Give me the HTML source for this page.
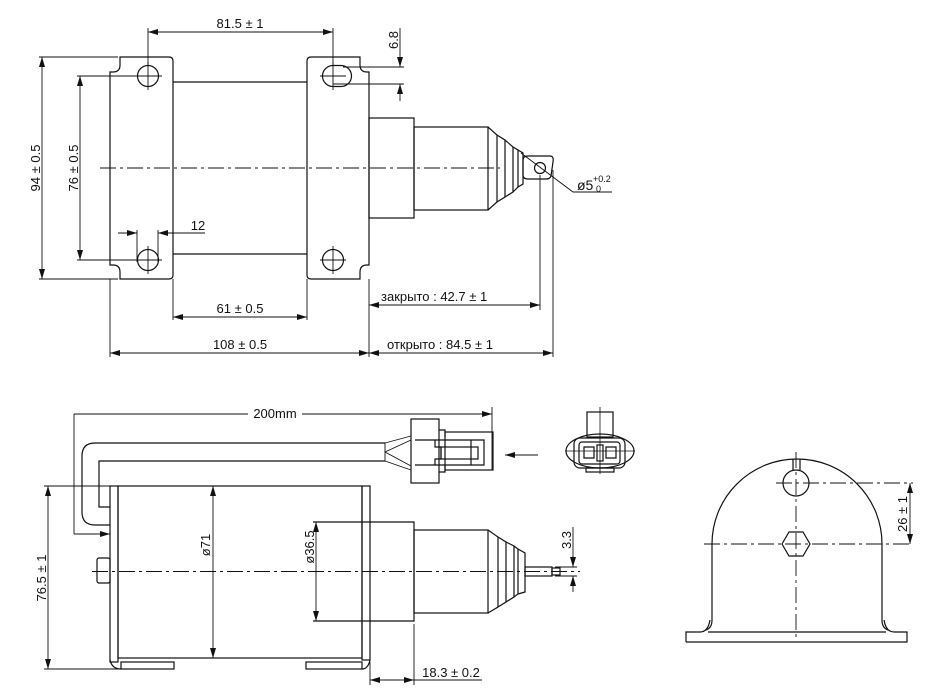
<!DOCTYPE html>
<html><head><meta charset="utf-8"><style>
html,body{margin:0;padding:0;background:#fff;}
svg{display:block;}
text{font-family:"Liberation Sans Narrow","Liberation Sans",sans-serif;fill:#111;}
</style></head><body>
<svg width="935" height="697" viewBox="0 0 935 697" xmlns="http://www.w3.org/2000/svg">
<defs>
<marker id="a" viewBox="0 0 10 6" refX="10" refY="3" markerWidth="10" markerHeight="6" orient="auto-start-reverse" markerUnits="userSpaceOnUse"><path d="M0,0 L10,3 L0,6z" fill="#111"/></marker>
</defs>
<g fill="none" stroke="#111" stroke-width="1.2">
<!-- ===== TOP VIEW ===== -->
<!-- left flange -->
<path d="M120,57 H169 Q173,57 173,61 V275 Q173,279 169,279 H120 V272 Q120,265 113,265 H110 V72 H113 Q120,72 120,65 Z"/>
<!-- right flange -->
<path d="M311,57 H360 V65 Q360,72 367,72 H369 V265 H367 Q360,265 360,272 V279 H311 Q307,279 307,275 V61 Q307,57 311,57 Z"/>
<line x1="173" y1="82" x2="307" y2="82"/><line x1="173" y1="254" x2="307" y2="254"/>
<!-- holes -->
<circle cx="148" cy="76" r="10.5"/><circle cx="148" cy="260" r="10.5"/>
<path d="M333,65.5 H341 A10.5,10.5 0 0 1 341,86.5 H333 A10.5,10.5 0 0 1 333,65.5 Z"/>
<circle cx="333" cy="260" r="10.5"/>
<g stroke-width="0.9">
<line x1="148" y1="62" x2="148" y2="90"/><line x1="134" y1="76" x2="162" y2="76"/>
<line x1="148" y1="246" x2="148" y2="274"/><line x1="134" y1="260" x2="162" y2="260"/>
<line x1="333" y1="62" x2="333" y2="90"/><line x1="320" y1="76" x2="346" y2="76"/>
<line x1="333" y1="246" x2="333" y2="274"/><line x1="320" y1="260" x2="346" y2="260"/>
</g>
<!-- collar & cylinder -->
<rect x="369" y="118" width="45" height="100"/>
<rect x="414" y="127" width="74" height="83"/>
<path d="M488,127 L497,135 V202 L488,210"/>
<path d="M497,135 L505,140 V197 L497,202"/>
<path d="M505,140 L513,147 V192 L505,197"/>
<path d="M513,147 L518,150 V187 L513,192"/>
<path d="M518,150 L523,153 V184 L518,187"/>
<path d="M523,160 Q523,156 528,156 H550 Q554,156 553,162 L551,176 Q550,179 546,179 H528 Q523,179 523,175 Z"/>
<circle cx="540" cy="168" r="5.5"/>
<!-- centerline -->
<line x1="100" y1="168" x2="500" y2="168" stroke-width="0.9" stroke-dasharray="16 4 3 4"/>
<!-- dims top -->
<g stroke-width="0.9">
<line x1="39" y1="57" x2="118" y2="57"/><line x1="39" y1="279" x2="118" y2="279"/>
<line x1="42" y1="57" x2="42" y2="279" marker-start="url(#a)" marker-end="url(#a)"/>
<line x1="77" y1="76" x2="138" y2="76"/><line x1="77" y1="260" x2="138" y2="260"/>
<line x1="80" y1="76" x2="80" y2="260" marker-start="url(#a)" marker-end="url(#a)"/>
<line x1="148" y1="28" x2="148" y2="66"/><line x1="333" y1="28" x2="333" y2="66"/>
<line x1="148" y1="32" x2="333" y2="32" marker-start="url(#a)" marker-end="url(#a)"/>
<line x1="343" y1="67" x2="404" y2="67"/><line x1="333" y1="84" x2="404" y2="84"/>
<line x1="400" y1="28" x2="400" y2="67" marker-end="url(#a)"/>
<line x1="400" y1="101" x2="400" y2="84" marker-end="url(#a)"/>
<line x1="137" y1="230" x2="137" y2="262"/><line x1="158" y1="230" x2="158" y2="262"/>
<line x1="118" y1="233" x2="137" y2="233" marker-end="url(#a)"/>
<line x1="205" y1="233" x2="158" y2="233" marker-end="url(#a)"/>
<line x1="110" y1="279" x2="110" y2="357"/><line x1="173" y1="279" x2="173" y2="320"/>
<line x1="307" y1="279" x2="307" y2="320"/><line x1="369" y1="279" x2="369" y2="357"/>
<line x1="173" y1="317" x2="307" y2="317" marker-start="url(#a)" marker-end="url(#a)"/>
<line x1="110" y1="353" x2="369" y2="353" marker-start="url(#a)" marker-end="url(#a)"/>
<line x1="540" y1="175" x2="540" y2="310"/><line x1="553" y1="170" x2="553" y2="357"/>
<line x1="369" y1="305" x2="540" y2="305" marker-start="url(#a)" marker-end="url(#a)"/>
<line x1="369" y1="353" x2="553" y2="353" marker-start="url(#a)" marker-end="url(#a)"/>
<polyline points="521,153 573,192 612,192"/>
</g>
<!-- ===== SIDE VIEW ===== -->
<!-- cable -->
<path d="M385,443 H95 Q82,443 82,456 V512 Q82,525 95,525 H110"/>
<path d="M385,461 H99 V507 H110"/>
<path d="M385,443 V461" stroke-width="0.9"/>
<path d="M385,443 L411,436 M385,452 L411,440 M385,452 L411,466 M385,461 L411,470" stroke-width="0.9"/>
<!-- connector side -->
<rect x="411" y="419" width="28" height="64"/>
<path d="M439,430 H445 V437 M439,472 H445 V465"/>
<rect x="445" y="432" width="48" height="38"/>
<path d="M415,440 H435 V447 H441 V459 H435 V465 H415 M435,440 H484 V465 H435"/>
<rect x="441" y="447" width="37" height="12"/>
<line x1="471" y1="440" x2="471" y2="465"/>
<!-- arrow -->
<line x1="538" y1="455" x2="505" y2="455" stroke-width="0.9" marker-end="url(#a)"/>
<!-- connector front -->
<rect x="587" y="412" width="26" height="25"/>
<ellipse cx="600" cy="451" rx="34" ry="17"/>
<rect x="574" y="438" width="51" height="30" rx="6"/>
<rect x="579" y="442" width="41" height="22" rx="3"/>
<path d="M584,447 H594 V458 H584 Z M606,447 H616 V458 H606 Z"/>
<rect x="597" y="445" width="6" height="16"/>
<rect x="586" y="468" width="28" height="4"/>
<g stroke-width="0.8"><line x1="600" y1="407" x2="600" y2="474"/><line x1="565" y1="451" x2="635" y2="451"/></g>
<!-- main body -->
<rect x="110" y="486" width="8" height="176"/>
<rect x="118" y="486" width="244" height="172"/>
<rect x="362" y="486" width="8" height="174"/>
<rect x="121" y="662" width="53" height="7"/>
<rect x="306" y="662" width="56" height="7"/>
<path d="M110,660 Q112,669 121,669 M370,660 Q368,669 362,669"/>
<rect x="97" y="558" width="13" height="25" rx="2"/>
<!-- collar / cylinder -->
<path d="M313,522 H414 V621 H313"/>
<rect x="414" y="530" width="74" height="83"/>
<path d="M488,530 L498,537 V607 L488,613"/>
<path d="M498,537 L506,542 V602 L498,607"/>
<path d="M506,542 L514,546 V597 L506,602"/>
<path d="M514,546 L518,549 V594 L514,597"/>
<path d="M518,549 L525,553 V592 L518,594"/>
<rect x="525" y="567" width="27" height="9"/>
<rect x="552" y="568" width="8" height="7"/>
<line x1="92" y1="571.5" x2="580" y2="571.5" stroke-width="0.9" stroke-dasharray="16 4 3 4"/>
<!-- dims side -->
<g stroke-width="0.9">
<line x1="74" y1="414" x2="248" y2="414"/>
<line x1="302" y1="414" x2="492" y2="414" marker-end="url(#a)"/>
<line x1="492" y1="407" x2="492" y2="470"/>
<line x1="493" y1="432" x2="493" y2="470"/>
<polyline points="74,414 74,534"/>
<line x1="74" y1="534" x2="110" y2="534" marker-end="url(#a)"/>
<line x1="44" y1="486" x2="110" y2="486"/><line x1="44" y1="669" x2="120" y2="669"/>
<line x1="48" y1="486" x2="48" y2="669" marker-start="url(#a)" marker-end="url(#a)"/>
<line x1="213" y1="486" x2="213" y2="658" marker-start="url(#a)" marker-end="url(#a)"/>
<line x1="316" y1="522" x2="316" y2="621" marker-start="url(#a)" marker-end="url(#a)"/>
<line x1="573" y1="527" x2="573" y2="567" marker-end="url(#a)"/>
<line x1="573" y1="592" x2="573" y2="576" marker-end="url(#a)"/>
<line x1="555" y1="567" x2="577" y2="567"/><line x1="555" y1="576" x2="577" y2="576"/>
<line x1="414" y1="624" x2="414" y2="685"/><line x1="370" y1="662" x2="370" y2="685"/>
<line x1="370" y1="680" x2="414" y2="680" marker-start="url(#a)" marker-end="url(#a)"/>
<line x1="414" y1="680" x2="482" y2="680"/>
</g>
<!-- ===== END VIEW ===== -->
<path d="M706,630 Q712,628 712,620 L712,544 A85,85 0 0 1 882,544 L882,620 Q882,628 888,630"/>
<path d="M686,642 H907 V632 H894 Q886,632 884,620 M686,642 V632 H700 Q708,632 710,620"/>
<line x1="708" y1="632" x2="886" y2="632"/>
<path d="M793,459 V470 M800,459 V470"/>
<circle cx="796" cy="483" r="13"/>
<polygon points="782,544 789,532 803,532 810,544 803,556 789,556"/>
<g stroke-width="0.9" stroke-dasharray="16 4 3 4">
<line x1="704" y1="544" x2="913" y2="544"/>
<line x1="796" y1="452" x2="796" y2="637"/>
<line x1="776" y1="483" x2="913" y2="483"/>
</g>
<line x1="910" y1="483" x2="910" y2="544" stroke-width="0.9" marker-start="url(#a)" marker-end="url(#a)"/>
</g>
<!-- TEXT -->
<g font-size="13">
<text x="240" y="28" text-anchor="middle">81.5 ± 1</text>
<text x="240" y="313" text-anchor="middle">61 ± 0.5</text>
<text x="240" y="349" text-anchor="middle">108 ± 0.5</text>
<text x="198" y="230" text-anchor="middle">12</text>
<text x="0" y="0" transform="translate(40,168) rotate(-90)" text-anchor="middle">94 ± 0.5</text>
<text x="0" y="0" transform="translate(78,168) rotate(-90)" text-anchor="middle">76 ± 0.5</text>
<text x="0" y="0" transform="translate(398,40) rotate(-90)" text-anchor="middle">6.8</text>
<text x="381" y="301">закрыто : 42.7 ± 1</text>
<text x="387" y="349">открыто : 84.5 ± 1</text>
<text x="577" y="190" font-size="14">ø5</text>
<text x="593" y="182" font-size="9">+0.2</text>
<text x="596" y="192" font-size="9">0</text>
<text x="275" y="418" text-anchor="middle">200mm</text>
<text x="0" y="0" transform="translate(46,578) rotate(-90)" text-anchor="middle">76.5 ± 1</text>
<text x="0" y="0" transform="translate(210,545) rotate(-90)" text-anchor="middle">ø71</text>
<text x="0" y="0" transform="translate(314,547) rotate(-90)" text-anchor="middle">ø36.5</text>
<text x="0" y="0" transform="translate(571,540) rotate(-90)" text-anchor="middle">3.3</text>
<text x="451" y="677" text-anchor="middle">18.3 ± 0.2</text>
<text x="0" y="0" transform="translate(907,514) rotate(-90)" text-anchor="middle">26 ± 1</text>
</g>
</svg>
</body></html>
